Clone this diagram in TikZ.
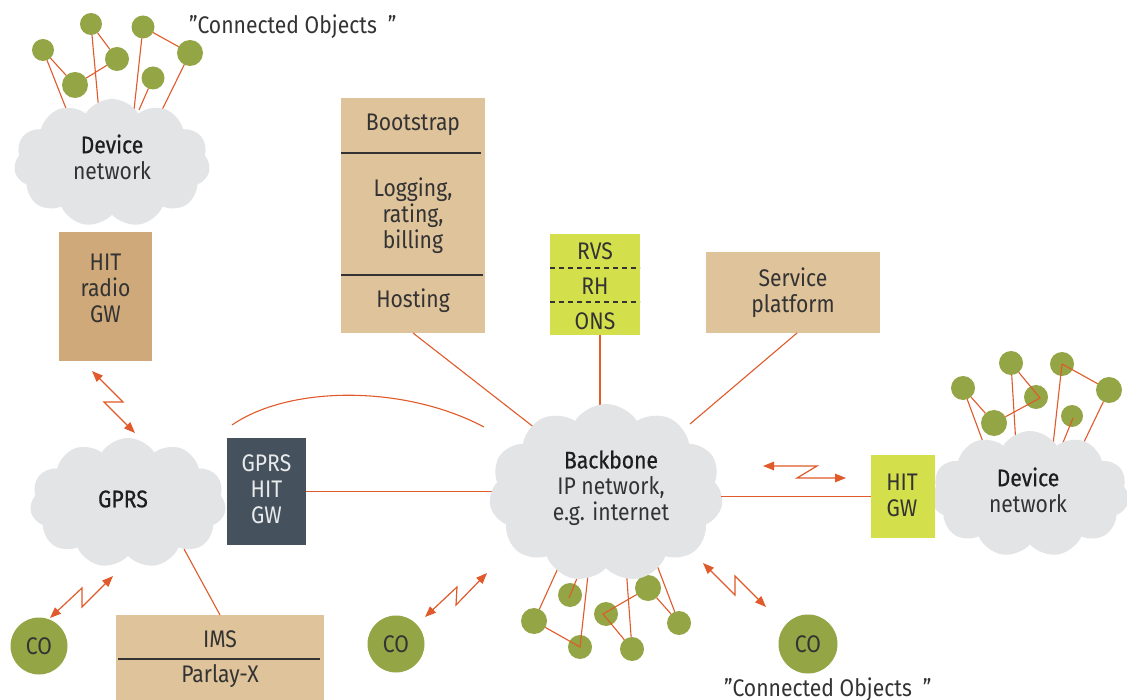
\documentclass[tikz,border=0pt]{standalone}
\usepackage{fontspec}
\setmainfont{Fira Sans}[FakeStretch=0.88]
\newfontfamily\medfont{Fira Sans}[FakeStretch=0.88, FakeBold=0.7]
\usetikzlibrary{shapes.symbols,arrows.meta,calc}
\definecolor{tanL}{HTML}{DFC39A}
\definecolor{tanD}{HTML}{CFA97A}
\definecolor{limeg}{HTML}{D4E04B}
\definecolor{slate}{HTML}{45525D}
\definecolor{cloudg}{HTML}{E3E4E6}
\definecolor{ballg}{HTML}{93A545}
\definecolor{orng}{HTML}{E05A2B}
\definecolor{txt}{HTML}{333333}
\definecolor{darktxt}{HTML}{1E1E1E}
\definecolor{lighttxt}{HTML}{E8EAEC}
\begin{document}
\begin{tikzpicture}[x=1pt,y=-1pt,
  every node/.style={inner sep=0pt,outer sep=0pt},
  lbl/.style={font=\fontsize{24}{26}\selectfont, text=txt, align=center},
  panel/.style={rectangle, fill=#1, draw=none},
  cloudn/.style={cloud, cloud puffs=11, cloud puff arc=115, aspect=1.5, fill=cloudg, draw=none},
  ballst/.style={circle, fill=ballg, draw=none, minimum size=#1},
  conn/.style={draw=orng, line width=1.1pt},
  zz/.style={draw=orng, line width=1.2pt, {Triangle[length=11pt,width=8.5pt]}-{Triangle[length=11pt,width=8.5pt]}},
  sep/.style={draw=txt, line width=1.3pt},
  dsep/.style={draw=txt, line width=1.1pt, dash pattern=on 5pt off 4pt}]
\useasboundingbox (0,0) rectangle (1127,700);
\fill[white] (0,0) rectangle (1127,700);

% ---------- top-left connected objects ----------
\node[ballst=22pt] (tA) at (43,50) {};
\node[ballst=22pt] (tB) at (91,24) {};
\node[ballst=24pt] (tC) at (117,59) {};
\node[ballst=26pt] (tD) at (75,85) {};
\node[ballst=23pt] (tE) at (143,27) {};
\node[ballst=26pt] (tF) at (190,53) {};
\node[ballst=23pt] (tG) at (153,78) {};
\coordinate (tc1) at (69,116);
\coordinate (tc2) at (99,112);
\coordinate (tc3) at (134,110);
\coordinate (tc4) at (139,110);
\coordinate (tc5) at (162,110);
\draw[conn] (tA) -- (tc1);
\draw[conn] (tA) -- (tD);
\draw[conn] (tD) -- (tC);
\draw[conn] (tB) -- (tC);
\draw[conn] (tB) -- (tc2);
\draw[conn] (tE) -- (tc3);
\draw[conn] (tE) -- (tF);
\draw[conn] (tG) -- (tc4);
\draw[conn] (tF) -- (tc5);
\node[lbl, anchor=west] (coTop) at (189,27) {”Connected Objects\hspace{11pt}”};

\node[cloudn, minimum width=196pt, minimum height=128pt] (devL) at (112,163) {};
\node[lbl] (devLt) at (112,157) {{\medfont\color{darktxt}Device}\\network};

% ---------- HIT radio GW ----------
\node[panel=tanD, minimum width=93pt, minimum height=129pt] (radio) at (105.5,296.5) {};
\node[lbl] (radiot) at (105.5,288) {HIT\\radio\\GW};

% ---------- GPRS ----------
\node[cloudn, minimum width=196pt, minimum height=130pt] (gprs) at (128,503) {};
\node[lbl] (gprst) at (123,499) {{\medfont\color{darktxt}GPRS}};
\coordinate (z1a) at (92,371);
\coordinate (z1b) at (135,433);
\draw[zz] (z1a) -- (123,402) -- (104,402) -- (z1b);

\node[panel=slate, minimum width=79pt, minimum height=107pt] (ggw) at (266.5,491.5) {};
\node[lbl, text=lighttxt] (ggwt) at (266.5,489) {GPRS\\HIT\\GW};

% ---------- left CO and IMS ----------
\node[ballst=57pt] (coL) at (39,646) {};
\node[lbl] (coLt) at (39,646) {CO};
\coordinate (z2a) at (50,618);
\coordinate (z2b) at (113,576);
\draw[zz] (z2a) -- (82,588) -- (82,607) -- (z2b);

\node[panel=tanL, minimum width=208pt, minimum height=90pt] (ims) at (220,660) {};
\draw[sep] (118,659) -- (320,659);
\node[lbl] (imst) at (220,639) {IMS};
\node[lbl] (parl) at (220,676) {Parlay-X};
\coordinate (gprsb) at (184,549);
\draw[conn] (gprsb) -- (ims.north);

% ---------- Bootstrap column ----------
\node[panel=tanL, minimum width=144pt, minimum height=235pt] (boot) at (413,215.5) {};
\draw[sep] (341,153) -- (481,153);
\draw[sep] (341,275) -- (483,275);
\node[lbl] (boot1) at (413,125) {Bootstrap};
\node[lbl] (boot2) at (413,216) {Logging,\\rating,\\billing};
\node[lbl] (boot3) at (413,301) {Hosting};

% ---------- RVS / RH / ONS ----------
\node[panel=limeg, minimum width=90pt, minimum height=101pt] (rvs) at (595,284.5) {};
\draw[dsep] (550,268) -- (640,268);
\draw[dsep] (550,302) -- (640,302);
\node[lbl] (rvs1) at (595,251) {RVS};
\node[lbl] (rvs2) at (595,286) {RH};
\node[lbl] (rvs3) at (595,321) {ONS};

% ---------- Service platform ----------
\node[panel=tanL, minimum width=174pt, minimum height=81pt] (svc) at (793,292.5) {};
\node[lbl] (svct) at (793,293) {Service\\platform};

% ---------- connectors into backbone ----------
\coordinate (bb1) at (540,432);
\coordinate (bb2) at (600,424);
\coordinate (bb3) at (690,424);
\draw[conn] (boot.south) -- (bb1);
\draw[conn] ($(rvs.south)+(5,0)$) -- (bb2);
\draw[conn] ($(svc.south)+(4,0)$) -- (bb3);
\coordinate (arcA) at (232,425);
\coordinate (arcB) at (484,427);
\draw[conn] (arcA) .. controls (290,385) and (405,385) .. (arcB);
\coordinate (bbL) at (496,491.5);
\draw[conn] (ggw.east) -- (bbL);

% ---------- bottom connected objects ----------
\node[ballst=26pt] (bp) at (534,621) {};
\node[ballst=24pt] (bq) at (570,595) {};
\node[ballst=24pt] (br) at (580,647) {};
\node[ballst=24pt] (bs) at (606,614) {};
\node[ballst=26pt] (bt) at (648,588) {};
\node[ballst=24pt] (bu) at (632,649) {};
\node[ballst=24pt] (bv) at (679,623) {};
\coordinate (qJ) at (569,598);
\coordinate (rJ) at (580,647);
\coordinate (sJ) at (603,614);
\coordinate (bc1) at (559,566);
\coordinate (bc2) at (582,566);
\coordinate (bc3) at (589,566);
\coordinate (bc4) at (626,566);
\coordinate (bc5) at (655,560);
\draw[conn] (bp) -- (bc1);
\draw[conn] (qJ) -- (bc2);
\draw[conn] (bp) -- (rJ) -- (bc3);
\draw[conn] (bu) -- (sJ) -- (bt);
\draw[conn] (bu) -- (bc4);
\draw[conn] (bt) -- (bv);
\draw[conn] (bv) -- (bc5);

% ---------- right connected objects ----------
\node[ballst=24pt] (ra) at (963,388) {};
\node[ballst=24pt] (rb) at (1011,363) {};
\node[ballst=24pt] (rc) at (1036,397) {};
\node[ballst=26pt] (rd) at (994,423) {};
\node[ballst=24pt] (re) at (1062,364) {};
\node[ballst=26pt] (rf) at (1109,390) {};
\node[ballst=22pt] (rg) at (1072,416) {};
\coordinate (cJ) at (1040,398);
\coordinate (eJ) at (1062,364);
\coordinate (gJ) at (1073,418);
\coordinate (rc1) at (986,450);
\coordinate (rc2) at (1016,445);
\coordinate (rc3) at (1053,445);
\coordinate (rc4) at (1062,445);
\coordinate (rc5) at (1084,442);
\draw[conn] (ra) -- (rc1);
\draw[conn] (ra) -- (rd);
\draw[conn] (rd) -- (cJ) -- (rb);
\draw[conn] (rb) -- (rc2);
\draw[conn] (eJ) -- (rc3);
\draw[conn] (eJ) -- (rf);
\draw[conn] (gJ) -- (rc4);
\draw[conn] (rf) -- (rc5);

% ---------- backbone cloud ----------
\node[cloudn, minimum width=234pt, minimum height=178pt] (bb) at (606,493) {};
\node[lbl] (bbt) at (611,488) {{\medfont\color{darktxt}Backbone}\\IP network,\\e.g. internet};

% ---------- right device network and HIT GW ----------
\node[cloudn, minimum width=198pt, minimum height=126pt] (devR) at (1030,494) {};
\node[lbl] (devRt) at (1028,490) {{\medfont\color{darktxt}Device}\\network};
\node[panel=limeg, minimum width=64pt, minimum height=83pt] (hgw) at (903,496.5) {};
\node[lbl] (hgwt) at (902,495.5) {HIT\\GW};
\draw[conn] (bb.east |- hgw.west) -- (hgw.west);
\coordinate (z5a) at (763,466);
\coordinate (z5b) at (846,478);
\draw[zz] (z5a) -- (817,466) -- (797,478) -- (z5b);

% ---------- middle and right CO ----------
\node[ballst=57pt] (coM) at (396,644) {};
\node[lbl] (coMt) at (396,644) {CO};
\coordinate (z3a) at (425,617);
\coordinate (z3b) at (487,573);
\draw[zz] (z3a) -- (457,587) -- (456,605) -- (z3b);

\node[ballst=59pt] (coR) at (808,644) {};
\node[lbl] (coRt) at (808,644) {CO};
\coordinate (z4a) at (703,563);
\coordinate (z4b) at (766,607);
\draw[zz] (z4a) -- (735,595) -- (735,576) -- (z4b);

\node[lbl, anchor=west] (coBot) at (724,690) {”Connected Objects\hspace{11pt}”};
\end{tikzpicture}
\end{document}
